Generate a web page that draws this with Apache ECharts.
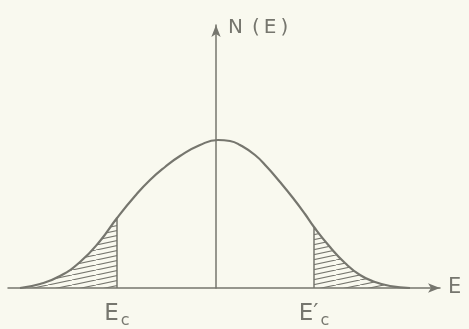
<!DOCTYPE html>
<html>
<head>
<meta charset="utf-8">
<script src="https://cdn.jsdelivr.net/npm/echarts@6/dist/echarts.min.js"></script>
<style>
  html, body { margin: 0; padding: 0; background: #f9f9ef; }
  #main { width: 469px; height: 329px; }
</style>
</head>
<body>
<div id="main"></div>
<script>
// energy axis values and the density curve N(E)
var energy  = [-196, -176, -156, -136, -116, -99, -81, -66, -51, -36, -16, 2, 14, 24, 39, 51, 64, 77, 89, 98, 114, 129, 144, 159, 174, 194];
var density = [0, 4, 12, 26, 47, 70, 92, 108, 121, 132, 143, 148, 147, 143, 133, 121, 106, 90, 74, 61, 41, 25, 13, 6, 2, 0];
var cutoffs = [-99, 98];   // E_c and E'_c
var cutLabels = ['{e|E}{s|c}', "{e|E′}{s|c}"];

var ink = '#76766e';

function pair(i) { return [energy[i], density[i]]; }
var curve = energy.map(function (e, i) { return pair(i); });
var leftTail = curve.filter(function (p) { return p[0] <= cutoffs[0]; });
var rightTail = curve.filter(function (p) { return p[0] >= cutoffs[1]; });
var yAt = function (e) { return density[energy.indexOf(e)]; };

// hatch pattern for the shaded tails
var hatch = document.createElement('canvas');
hatch.width = 24; hatch.height = 5;
var hc = hatch.getContext('2d');
hc.strokeStyle = ink;
hc.lineWidth = 1.2;
hc.beginPath();
hc.moveTo(0, 5); hc.lineTo(24, 0);
hc.moveTo(-24, 5); hc.lineTo(0, 0);
hc.moveTo(24, 5); hc.lineTo(48, 0);
hc.stroke();

var chart = echarts.init(document.getElementById('main'));
chart.setOption({
  backgroundColor: '#f9f9ef',
  animation: false,
  grid: { left: 8, right: 29, top: 25, bottom: 41 },
  xAxis: {
    type: 'value',
    min: -208, max: 224,
    splitLine: { show: false },
    axisTick: { show: false },
    axisLine: { lineStyle: { color: ink, width: 1.5 }, symbol: ['none', 'arrow'], symbolSize: [7, 12] },
    axisLabel: {
      customValues: cutoffs,
      formatter: function (v) { return cutLabels[cutoffs.indexOf(v)]; },
      margin: 11,
      color: ink,
      fontSize: 23,
      fontFamily: 'DejaVu Sans',
      rich: {
        e: { fontSize: 23, color: ink, fontFamily: 'DejaVu Sans' },
        s: { fontSize: 16, color: ink, fontFamily: 'DejaVu Sans', verticalAlign: 'bottom', padding: [14, 0, 0, 2] }
      }
    },
    name: 'E',
    nameLocation: 'end',
    nameGap: 8,
    nameTextStyle: { color: ink, fontSize: 21, fontFamily: 'DejaVu Sans', align: 'left', verticalAlign: 'middle', padding: [26, 0, 0, 0] }
  },
  yAxis: {
    type: 'value',
    min: 0, max: 263,
    splitLine: { show: false },
    axisTick: { show: false },
    axisLabel: { show: false },
    axisLine: { onZero: true, lineStyle: { color: ink, width: 1.5 }, symbol: ['none', 'arrow'], symbolSize: [7, 12] },
    name: '{n|N}{p|(\u2009E\u2009)}',
    nameLocation: 'end',
    nameGap: -3,
    nameTextStyle: {
      color: ink, fontSize: 20, fontFamily: 'DejaVu Sans', align: 'left', verticalAlign: 'middle', padding: [0, 0, 0, 12],
      rich: {
        n: { color: ink, fontSize: 20, fontFamily: 'DejaVu Sans', padding: [0, 9, 0, 0] },
        p: { color: ink, fontSize: 20, fontFamily: 'DejaVu Sans' }
      }
    }
  },
  series: [
    {
      type: 'line', data: leftTail, smooth: 0.5, symbol: 'none',
      lineStyle: { width: 0 },
      areaStyle: { color: { image: hatch, repeat: 'repeat' }, opacity: 1 }
    },
    {
      type: 'line', data: rightTail, smooth: 0.5, symbol: 'none',
      lineStyle: { width: 0 },
      areaStyle: { color: { image: hatch, repeat: 'repeat' }, opacity: 1 }
    },
    {
      type: 'line', data: curve, smooth: 0.5, symbol: 'none',
      lineStyle: { color: ink, width: 2.2 }
    },
    {
      type: 'line', data: [[cutoffs[0], 0], [cutoffs[0], yAt(cutoffs[0])]], symbol: 'none',
      lineStyle: { color: ink, width: 1.5 }
    },
    {
      type: 'line', data: [[cutoffs[1], 0], [cutoffs[1], yAt(cutoffs[1])]], symbol: 'none',
      lineStyle: { color: ink, width: 1.5 }
    }
  ]
});
</script>
</body>
</html>
